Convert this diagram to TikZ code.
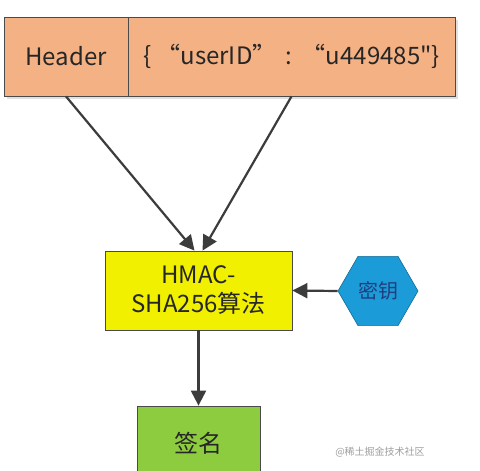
\documentclass[tikz,border=0pt]{standalone}
\usepackage{fontspec}
\setmainfont{Noto Sans CJK SC}
\usetikzlibrary{arrows.meta,shapes.geometric,shadows}
\definecolor{orangefill}{HTML}{F4B183}
\definecolor{yellowfill}{HTML}{F0F000}
\definecolor{bluefill}{HTML}{1B9BD7}
\definecolor{bluetext}{HTML}{1F3F7F}
\definecolor{greenfill}{HTML}{8DCB3F}
\definecolor{edgecol}{HTML}{4A4A4A}
\definecolor{arrowcol}{HTML}{3C3C3C}
\definecolor{textcol}{HTML}{262626}
\tikzset{
  box/.style={draw=edgecol, line width=0.8pt, inner sep=0pt, align=center, text=textcol, font=\fontsize{24}{29}\selectfont},
  shadowed/.style={drop shadow={shadow xshift=3pt, shadow yshift=-3pt, fill=black, opacity=0.12}},
  conn/.style={draw=arrowcol, line width=2.2pt, -{Triangle[length=15pt,width=15pt]}}
}
\begin{document}
\begin{tikzpicture}[x=1pt,y=-1pt]
\useasboundingbox (0,0) rectangle (480,471);
\clip (0,0) rectangle (480,471);
\fill[white] (0,0) rectangle (480,471);
\node[box, shadowed, fill=orangefill, minimum width=124pt, minimum height=79pt] (header) at (66,56.5) {Header};
\node[box, shadowed, fill=orangefill, minimum width=327pt, minimum height=79pt] (body) at (291.5,56.5) {\{ “userID” \,:\, “u449485\textquotedbl\}};
\node[box, fill=yellowfill, minimum width=187pt, minimum height=79pt] (hmac) at (198.5,290.5) {HMAC-\\SHA256算法};
\node[regular polygon, regular polygon sides=6, draw=bluefill!70!black, line width=0.6pt, fill=bluefill, minimum size=80pt, inner sep=0pt, text=bluetext, font=\fontsize{20}{22}\selectfont] (key) at (378,291) {密钥};
\node[box, fill=greenfill, minimum width=123pt, minimum height=74pt] (sig) at (198.5,443) {签名};
\node[text=gray!75, font=\fontsize{10}{12}\selectfont] (wm) at (380,452) {@稀土掘金技术社区};
\draw[conn] (header.south) -- ([xshift=-4pt]hmac.north);
\draw[conn] (body.south) -- ([xshift=4pt]hmac.north);
\draw[conn] (key.west) -- (hmac.east);
\draw[conn] (hmac.south) -- (sig.north);
\end{tikzpicture}
\end{document}
